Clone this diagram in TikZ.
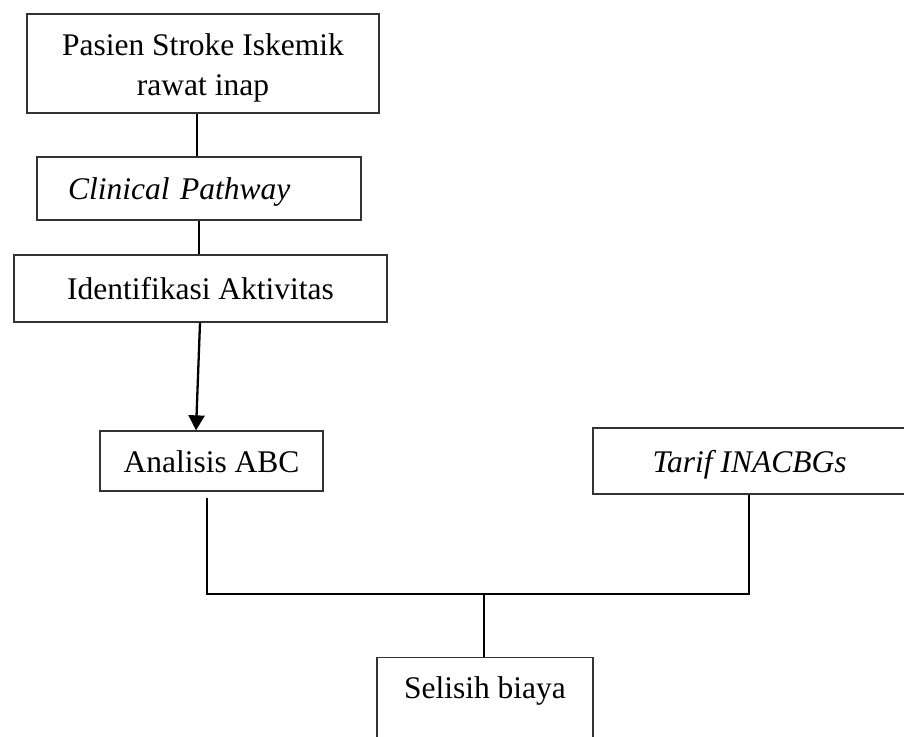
\documentclass[tikz,border=0pt]{standalone}
\usepackage{fontspec}
\setmainfont{Liberation Serif}[Ligatures=NoCommon]
\usetikzlibrary{arrows.meta,calc}
\begin{document}
\begin{tikzpicture}[x=1pt,y=-1pt,
  box/.style={draw=black!80, line width=1.3pt, inner sep=0pt, align=center,
    font=\fontsize{31.5}{40}\selectfont},
  oneline/.style={box, text height=22pt, text depth=0pt},
  link/.style={line width=1.8pt, draw=black},
]
\useasboundingbox (0,0) rectangle (904,736);
\clip (0,0) rectangle (904,736);

% process boxes
\node[box, minimum width=352pt, minimum height=99pt] (pasien) at (203,63.5)
  {\parbox[c][99pt][t]{352pt}{\centering\rule{0pt}{41pt}Pasien Stroke Iskemik\\rawat inap}};
\node[oneline, minimum width=324pt, minimum height=63pt, text width=262pt,
  inner xsep=31pt, align=left] (cp) at (199,188.5) {\textit{Clinical Pathway}};
\node[oneline, minimum width=373pt, minimum height=67pt] (ident) at (200.5,288.5)
  {Identifikasi Aktivitas};
\node[oneline, minimum width=223pt, minimum height=60pt] (abc) at (211.5,461)
  {Analisis ABC};
\node[oneline, minimum width=313pt, minimum height=66pt] (tarif) at (749.5,461)
  {\textit{Tarif INACBGs}};
\node[box, anchor=north, minimum width=216pt, text height=22pt, text depth=70pt,
  inner ysep=19pt] (selisih) at (485,657) {Selisih biaya};

% connectors
\draw[link] ($(pasien.south)+(-6,0)$) -- ($(cp.north)+(-2,0)$);
\draw[link] (cp.south) -- (ident.north -| cp.south);
\draw[link, line width=2.3pt, -{Triangle[width=16pt,length=15pt]}]
  ($(ident.south)+(-0.5,0)$) -- ($(abc.north)+(-15.5,0)$);

% joining bracket
\coordinate (jl) at (207,594);
\coordinate (jr) at (749,594);
\coordinate (jm) at (484,594);
\draw[link] ($(abc.south -| jl)+(0,6)$) -- (jl) -- (jr) -- (tarif.south -| jr);
\draw[link] (jm) -- (selisih.north -| jm);
\end{tikzpicture}
\end{document}
